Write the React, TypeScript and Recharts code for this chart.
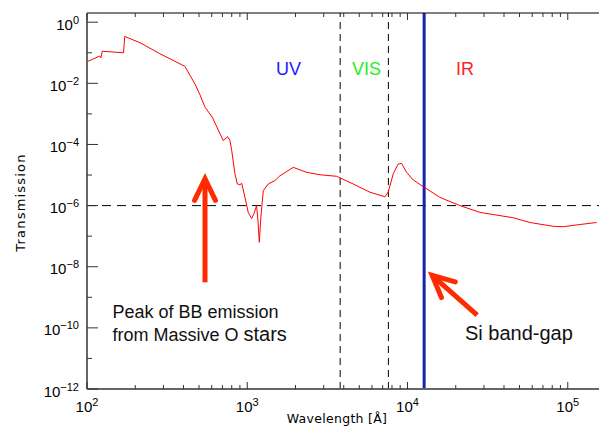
import { LineChart, Line, XAxis, YAxis, ReferenceLine } from "recharts";

// wavelength in Angstrom, transmission
const wavelength = [
  100, 120, 122, 124.5, 169, 172, 214, 285, 408, 472, 507, 545, 605, 708, 755,
  780, 800, 838, 867, 900, 923, 968, 1014, 1064, 1102, 1143, 1167, 1189, 1216,
  1259, 1352, 1489, 1600, 1936, 2344, 2844, 3614, 4581, 5821, 7228, 7586, 8147,
  8750, 9183, 9863, 10860, 12700, 15920, 21230, 28310, 45710, 58080, 81100,
  93760, 118900, 151400,
];
const transmission = [
  5.1e-2, 7.8e-2, 6.8e-2, 0.112, 0.1, 0.34, 0.214, 0.093, 0.036, 9.5e-3, 4.2e-3,
  1.66e-3, 7.8e-4, 1.35e-4, 1.8e-4, 1.35e-4, 6.3e-5, 1.1e-5, 5.1e-6, 4.8e-6,
  5.4e-6, 1.86e-6, 6.0e-7, 3.8e-7, 5.4e-7, 1.0e-6, 3.2e-7, 6.3e-8, 4.2e-7,
  3.1e-6, 5.1e-6, 6.6e-6, 9.5e-6, 1.78e-5, 1.23e-5, 1.02e-5, 9.1e-6, 5.1e-6,
  2.75e-6, 1.95e-6, 2.8e-6, 1.1e-5, 2.3e-5, 2.4e-5, 1.23e-5, 6.9e-6, 4.0e-6,
  1.86e-6, 1.0e-6, 6.0e-7, 4.0e-7, 2.8e-7, 2.1e-7, 2.04e-7, 2.4e-7, 2.8e-7,
];

const xDecades = [100, 1000, 10000, 100000];
const yTicks = [
  1, 1e-1, 1e-2, 1e-3, 1e-4, 1e-5, 1e-6, 1e-7, 1e-8, 1e-9, 1e-10, 1e-11, 1e-12,
];
const bandEdges = [3800, 7600];
const siBandGap = 12700;
const threshold = 1e-6;

const data = wavelength.map((w, i) => ({ w, t: transmission[i] }));

const xTicks: number[] = [];
xDecades.forEach((d) => {
  for (let m = 1; m <= 9; m++) if (d * m <= 2e5) xTicks.push(d * m);
});

const expOf = (v: number) => Math.round(Math.log10(v));
const isPow = (v: number) => Math.abs(Math.log10(v) - expOf(v)) < 1e-6;
const fmtExp = (e: number) => (e < 0 ? "\u2212" + Math.abs(e) : String(e));

const XTick = (props: any) => {
  const { x, y, payload, top } = props;
  const v = payload.value;
  const major = isPow(v);
  const len = major ? 7 : 4;
  const dir = top ? 1 : -1;
  return (
    <g>
      <line x1={x} y1={y} x2={x} y2={y + dir * len} stroke="#333" strokeWidth={1} />
      {major && !top && (
        <text
          x={x}
          y={y + 23}
          textAnchor="middle"
          fontFamily="Liberation Sans"
          fontSize={15}
          fill="#000"
        >
          10
          <tspan dy={-6} fontSize={11}>
            {fmtExp(expOf(v))}
          </tspan>
        </text>
      )}
    </g>
  );
};

const YTick = (props: any) => {
  const { x, y, payload, right } = props;
  const e = expOf(payload.value);
  const major = e % 2 === 0;
  const len = major ? 11 : 5;
  const dir = right ? -1 : 1;
  return (
    <g>
      <line x1={x} y1={y} x2={x + dir * len} y2={y} stroke="#333" strokeWidth={1} />
      {major && !right && (
        <text
          x={x - 8}
          y={y + 7.5}
          textAnchor="end"
          fontFamily="Liberation Sans"
          fontSize={15}
          fill="#000"
        >
          10
          <tspan dy={-6} fontSize={11}>
            {fmtExp(e)}
          </tspan>
        </text>
      )}
    </g>
  );
};

const arrowShape = (p: any) => {
  const { x1, y1, x2, y2 } = p;
  const ang = Math.atan2(y2 - y1, x2 - x1);
  const L = 24;
  const a = 0.45;
  const ax = x2 - L * Math.cos(ang - a);
  const ay = y2 - L * Math.sin(ang - a);
  const bx = x2 - L * Math.cos(ang + a);
  const by = y2 - L * Math.sin(ang + a);
  return (
    <g stroke="#ff2a00" fill="none" strokeWidth={5}>
      <line x1={x1} y1={y1} x2={x2} y2={y2} />
      <polyline
        points={`${ax},${ay} ${x2},${y2} ${bx},${by}`}
        strokeLinecap="round"
        strokeLinejoin="miter"
      />
    </g>
  );
};

export default function App() {
  return (
    <div style={{ position: "relative", width: 599, height: 431, overflow: "hidden" }}>
      <LineChart
        width={620}
        height={431}
        data={data}
        margin={{ top: 0, right: 0, left: 0, bottom: 0 }}
      >
        <XAxis
          xAxisId="b"
          dataKey="w"
          type="number"
          scale="log"
          domain={[100, 2e5]}
          allowDataOverflow
          ticks={xTicks}
          interval={0}
          height={50}
          tickSize={0}
          tickMargin={0}
          tickLine={false}
          axisLine={{ stroke: "#666", strokeWidth: 2 }}
          tick={(p: any) => <XTick {...p} />}
        />
        <XAxis
          xAxisId="t"
          orientation="top"
          dataKey="w"
          type="number"
          scale="log"
          domain={[100, 2e5]}
          allowDataOverflow
          ticks={xTicks}
          interval={0}
          height={5}
          tickSize={0}
          tickMargin={0}
          tickLine={false}
          axisLine={{ stroke: "#000", strokeWidth: 1 }}
          tick={(p: any) => <XTick {...p} top />}
        />
        <YAxis
          yAxisId="l"
          type="number"
          scale="log"
          domain={[1e-12, 2]}
          allowDataOverflow
          ticks={yTicks}
          interval={0}
          width={79}
          tickSize={0}
          tickMargin={0}
          tickLine={false}
          axisLine={{ stroke: "#666", strokeWidth: 2 }}
          tick={(p: any) => <YTick {...p} />}
        />
        <YAxis
          yAxisId="r"
          orientation="right"
          type="number"
          scale="log"
          domain={[1e-12, 2]}
          allowDataOverflow
          ticks={yTicks}
          interval={0}
          width={12}
          tickSize={0}
          tickMargin={0}
          tickLine={false}
          axisLine={{ stroke: "#000", strokeWidth: 1 }}
          tick={(p: any) => <YTick {...p} right />}
        />
        <ReferenceLine
          xAxisId="b"
          yAxisId="l"
          y={threshold}
          stroke="#000"
          strokeDasharray="9 6"
        />
        {bandEdges.map((b) => (
          <ReferenceLine
            key={b}
            xAxisId="b"
            yAxisId="l"
            x={b}
            stroke="#000"
            strokeDasharray="7 5"
          />
        ))}
        <ReferenceLine
          xAxisId="b"
          yAxisId="l"
          x={siBandGap}
          stroke="#1426a6"
          strokeWidth={3}
        />
        <Line
          xAxisId="b"
          yAxisId="l"
          dataKey="t"
          type="linear"
          stroke="#ff0000"
          strokeWidth={1}
          dot={false}
          isAnimationActive={false}
        />
        <ReferenceLine
          xAxisId="b"
          yAxisId="l"
          segment={[
            { x: 545, y: 3.1e-9 },
            { x: 545, y: 7.6e-6 },
          ]}
          shape={arrowShape}
          ifOverflow="visible"
        />
        <ReferenceLine
          xAxisId="b"
          yAxisId="l"
          segment={[
            { x: 27200, y: 2.6e-10 },
            { x: 14250, y: 5.2e-9 },
          ]}
          shape={arrowShape}
          ifOverflow="visible"
        />
      </LineChart>
      <svg
        width={599}
        height={431}
        style={{ position: "absolute", left: 0, top: 0, pointerEvents: "none" }}
      >
        <g fontFamily="Liberation Sans" fontSize={18}>
          <text x={268} y={67} fill="#1a1aff">UV</text>
          <text x={344} y={67} fill="#22ee22">VIS</text>
          <text x={448} y={67} fill="#ff2222">IR</text>
        </g>
        <g fontFamily="Liberation Sans" fill="#111">
          <text x={104.5} y={310} fontSize={18}>Peak of BB emission</text>
          <text x={104.5} y={333} fontSize={18}>
            from Massive O <tspan fontSize={20}>stars</tspan>
          </text>
          <text x={457} y={332} fontSize={20}>Si band-gap</text>
        </g>
        <text
          transform="translate(12,194.5) rotate(-90)"
          textAnchor="middle"
          dominantBaseline="central"
          fontFamily="DejaVu Sans"
          fontSize={13}
          letterSpacing={1.2}
        >
          Transmission
        </text>
        <text
          x={329}
          y={415}
          textAnchor="middle"
          fontFamily="DejaVu Sans"
          fontSize={12.5}
          letterSpacing={0.3}
        >
          Wavelength [Å]
        </text>
      </svg>
    </div>
  );
}
